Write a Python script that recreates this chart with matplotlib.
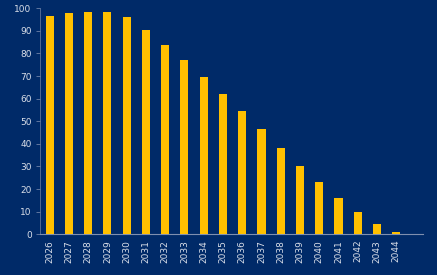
import matplotlib
matplotlib.use('Agg')
import matplotlib.pyplot as plt
import numpy as np

years = [str(y) for y in range(2026, 2045)]
values = [96.7, 97.8, 98.2, 98.2, 96.3, 90.3, 83.9, 77.0, 69.7, 62.2,
          54.6, 46.6, 38.3, 30.4, 23.0, 15.9, 9.9, 4.4, 0.9]

BG = '#002A68'
BAR = '#FFC000'
TXT = '#D9DEE8'
AXC = '#6F82A8'

fig = plt.figure(figsize=(4.37, 2.75), dpi=100, facecolor=BG)
ax = fig.add_axes([0.0915, 0.148, 0.877, 0.822], facecolor=BG)

x = np.arange(len(years))
ax.bar(x, values, width=0.42, color=BAR, edgecolor='none', zorder=3)

ax.set_xlim(-0.5, 19.4)
ax.set_ylim(0, 100)
ax.set_yticks(range(0, 101, 10))
ax.set_xticks(x)
ax.set_xticklabels(years, rotation=90)

for side in ['top', 'right']:
    ax.spines[side].set_visible(False)
ax.spines['bottom'].set_color('#7F8FAF')
ax.spines['bottom'].set_linewidth(0.8)
ax.spines['left'].set_color(AXC)
ax.spines['left'].set_linewidth(0.5)
ax.tick_params(axis='y', colors=AXC, labelcolor=TXT, labelsize=6.5,
               length=3, width=0.6, pad=3)
ax.tick_params(axis='x', length=0, labelcolor=TXT, labelsize=6.5, pad=4)

fig.savefig('out.png', dpi=100, facecolor=BG)
